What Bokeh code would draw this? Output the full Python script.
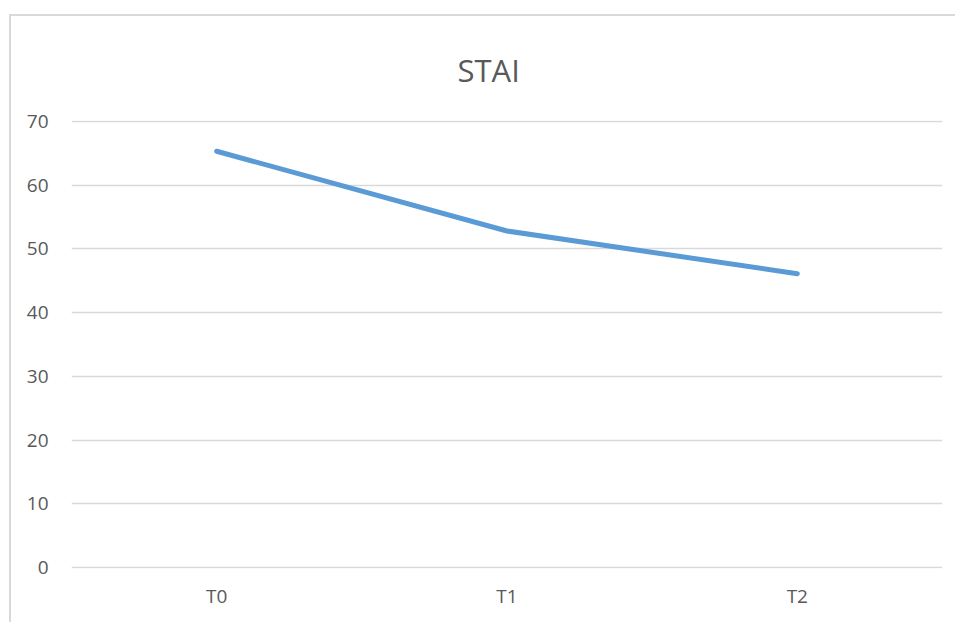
from bokeh.plotting import figure
from bokeh.models import FixedTicker, Range1d
from bokeh.embed import file_html
from bokeh.resources import INLINE

categories = ["T0", "T1", "T2"]
stai_values = [65.3, 52.8, 46.1]
y_ticks = [0, 10, 20, 30, 40, 50, 60, 70]

TXT = "#595959"
GRID = "#d9d9d9"
FONT = "Open Sans"

p = figure(x_range=categories, y_range=Range1d(-0.12, 70.12), width=946, height=608,
           output_backend="svg", toolbar_location=None,
           min_border_left=60, min_border_right=15, min_border_top=104, min_border_bottom=56)
p.styles = {"margin-left": "9px", "margin-top": "14px",
            "border-left": f"2px solid {GRID}", "border-top": f"2px solid {GRID}"}

p.title.text = "STAI"
p.title.align = "left"
p.title.offset = 386
p.title.vertical_align = "middle"
p.title.text_font = FONT
p.title.text_font_size = "31px"
p.title.text_font_style = "normal"
p.title.text_color = TXT
p.title.standoff = 58

p.line(x=categories, y=stai_values, line_color="#5B9BD5", line_width=5, line_cap="round", line_join="round")

p.outline_line_color = None
p.background_fill_color = "white"
p.border_fill_color = "white"

p.xgrid.grid_line_color = None
p.ygrid.grid_line_color = GRID
p.ygrid.grid_line_width = 1.5
p.yaxis.ticker = FixedTicker(ticks=y_ticks)

for ax in (p.xaxis[0], p.yaxis[0]):
    ax.axis_line_color = None
    ax.major_tick_line_color = None
    ax.minor_tick_line_color = None
    ax.major_label_text_font = FONT
    ax.major_label_text_font_size = "19px"
    ax.major_label_text_color = TXT
p.xaxis.major_label_standoff = 8
p.yaxis.major_label_standoff = 17

open("out.html", "w").write(file_html(p, INLINE))
